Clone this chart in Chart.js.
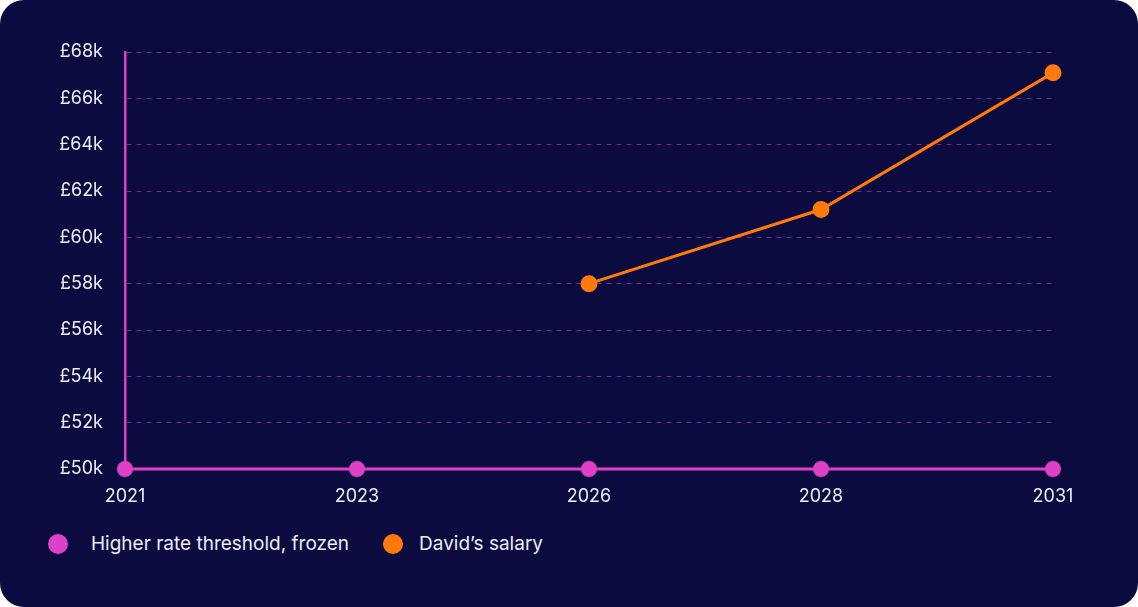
<!DOCTYPE html>
<html>
<head>
<meta charset="utf-8">
<script src="https://cdn.jsdelivr.net/npm/chart.js@4/dist/chart.umd.min.js"></script>
<style>
  html, body { margin: 0; padding: 0; background: #ffffff; }
  #card {
    position: absolute; left: 0; top: 0; width: 1138px; height: 607px;
    background: #0b0b40; border-radius: 24px; overflow: hidden;
    font-family: Inter, "Noto Sans", sans-serif;
  }
  #wrap { position: absolute; left: 0; top: 0; width: 1138px; height: 515px; }
  #legend { position: absolute; left: 48px; top: 532px; display: flex; color: #ececf4; font-size: 19px; }
  .item { display: flex; align-items: center; margin-right: 34px; }
  .dot { width: 20px; height: 20px; border-radius: 50%; margin-right: 23px; }
  .item + .item .dot { margin-right: 16px; }
</style>
</head>
<body>
<div id="card">
  <div id="wrap"><canvas id="chart"></canvas></div>
  <div id="legend"></div>
</div>
<script>
// data
const years = ["2021", "2023", "2026", "2028", "2031"];
const threshold = [50, 50, 50, 50, 50];
const salary = [null, null, 58, 61.2, 67.1];
const seriesNames = ["Higher rate threshold, frozen", "David\u2019s salary"];
const seriesColors = ["#e040c8", "#ff7a0a"];

// legend
const legend = document.getElementById("legend");
seriesNames.forEach((name, i) => {
    const el = document.createElement("div");
    el.className = "item";
    el.innerHTML = `<span class="dot" style="background:${seriesColors[i]}"></span>${name}`;
    legend.appendChild(el);
});

new Chart(document.getElementById("chart"), {
    type: "line",
    data: {
        labels: years,
        datasets: [
            { label: seriesNames[0], data: threshold, borderColor: seriesColors[0], backgroundColor: seriesColors[0],
              borderWidth: 3, pointRadius: 6.5, pointHoverRadius: 6.5, clip: false },
            { label: seriesNames[1], data: salary, borderColor: seriesColors[1], backgroundColor: seriesColors[1],
              borderWidth: 3, pointRadius: 7, pointHoverRadius: 7, clip: false }
        ]
    },
    options: {
        responsive: true,
        maintainAspectRatio: false,
        animation: false,
        layout: { padding: { top: 52, right: 85, left: 0, bottom: 0 } },
        plugins: { legend: { display: false }, tooltip: { enabled: false } },
        scales: {
            x: {
                offset: false,
                grid: { display: false, drawTicks: false },
                border: { display: false },
                ticks: { color: "#ececf4", font: { family: "Inter", size: 18 }, padding: 17, maxRotation: 0 },
                afterFit: s => { s.height = 46; }
            },
            y: {
                min: 50, max: 68,
                grid: { color: "#6e2a8e", lineWidth: 1, drawTicks: false },
                border: { color: "#e040c8", width: 2.5, dash: [5, 5] },
                ticks: {
                    stepSize: 2, color: "#ececf4", font: { family: "Inter", size: 18 }, padding: 22,
                    callback: v => "\u00a3" + v + "k"
                },
                afterFit: s => { s.width = 125; }
            }
        }
    }
});
</script>
</body>
</html>
